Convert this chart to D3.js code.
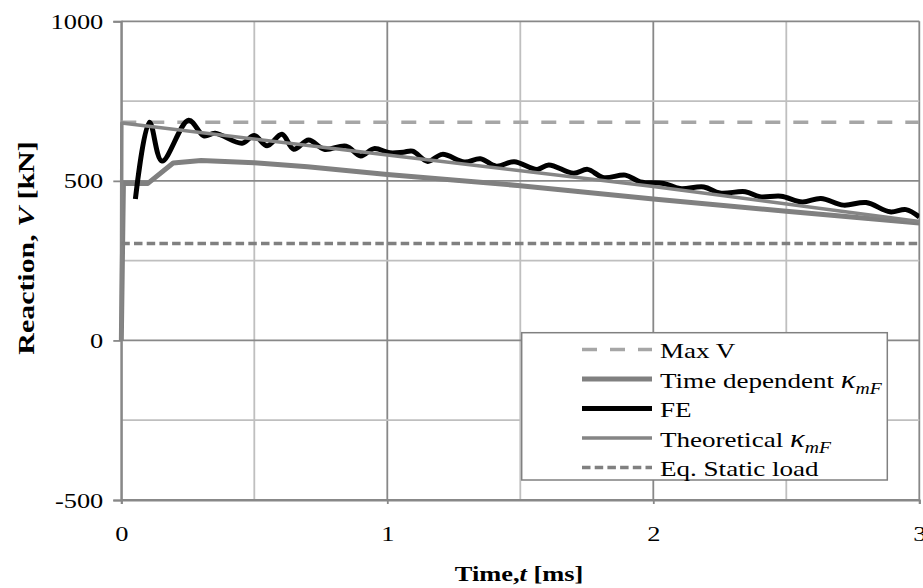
<!DOCTYPE html>
<html><head><meta charset="utf-8">
<script src="https://cdn.jsdelivr.net/npm/d3@7/dist/d3.min.js"></script>
<style>
html,body{margin:0;padding:0;background:#fff;}
svg{display:block;font-family:"Liberation Serif","Times New Roman",Times,serif;}
</style></head>
<body>
<svg id="c" width="923" height="588"></svg>
<script>
// ---------- data ----------
const xTicks = [0, 1, 2, 3];
const yTicks = [-500, 0, 500, 1000];

const maxV = 684;          // Max V
const eqStatic = 304;      // Eq. Static load

const tdT = [0, 0.008, 0.1, 0.195, 0.3, 0.5, 0.7, 1, 1.5, 2, 2.5, 3];
const tdV = [0, 492, 492, 556, 564, 557, 544, 520, 485, 443, 405, 368];

const feT = [0.053, 0.106, 0.153, 0.253, 0.31, 0.353, 0.454, 0.5, 0.548, 0.604, 0.648, 0.704, 0.763, 0.845, 0.9, 0.95, 1.01, 1.06, 1.095, 1.152, 1.207, 1.29, 1.35, 1.41, 1.477, 1.563, 1.607, 1.70, 1.753, 1.813, 1.895, 1.951, 2.039, 2.10, 2.19, 2.25, 2.346, 2.40, 2.48, 2.56, 2.63, 2.715, 2.80, 2.89, 2.95, 3.0];
const feV = [443, 684, 562, 690, 641, 649, 618, 642, 610, 646, 599, 628, 599, 609, 578, 601, 588, 590, 593, 561, 583, 559, 569, 546, 560, 536, 550, 524, 536, 510, 518, 497, 492, 476, 481, 462, 466, 450, 452, 434, 445, 424, 432, 403, 410, 387];

const thT = [0, 0.002, 1, 2, 3];
const thV = [0, 681, 581, 482, 373];

const legendLabels = ["Max V", "Time dependent ", "FE", "Theoretical ", "Eq. Static load"];

// ---------- layout ----------
const FONT = "'Liberation Serif','Times New Roman',Times,serif";
const svg = d3.select("#c");
const L = 121.3, R = 919.3, T = 21.3, B = 500;
const x = d3.scaleLinear().domain([0, 3]).range([L, R]);
const y = d3.scaleLinear().domain([-500, 1000]).range([B, T]);

const minorCol = "#bfbfbf", majorCol = "#888888";

// gridlines
const g = svg.append("g");
d3.range(0, 3.01, 0.5).forEach(v => {
  g.append("line").attr("x1", x(v)).attr("x2", x(v)).attr("y1", T).attr("y2", B)
    .attr("stroke", Number.isInteger(v) ? majorCol : minorCol).attr("stroke-width", 1.8);
});
d3.range(-500, 1001, 250).forEach(v => {
  g.append("line").attr("x1", L).attr("x2", R).attr("y1", y(v)).attr("y2", y(v))
    .attr("stroke", v % 500 === 0 ? majorCol : minorCol).attr("stroke-width", 1.8);
});

// axes
function stretch(sel, sx) {
  sel.each(function () {
    const t = d3.select(this);
    const xx = +t.attr("x") || 0;
    t.attr("transform", `translate(${xx},0) scale(${sx},1) translate(${-xx},0)`);
  });
}
const fmt = d => String(d);
const ya = svg.append("g").attr("transform", `translate(${L},0)`)
  .call(d3.axisLeft(y).tickValues(yTicks).tickSize(8).tickPadding(10).tickFormat(fmt));
ya.attr("font-family", FONT);
ya.select(".domain").attr("stroke", majorCol).attr("stroke-width", 2);
ya.selectAll(".tick line").attr("stroke", majorCol).attr("stroke-width", 1.8);
ya.selectAll("text").attr("font-size", 22).attr("fill", "#000").attr("font-family", FONT);
stretch(ya.selectAll("text"), 1.2);

const xa = svg.append("g").attr("transform", `translate(0,${B})`)
  .call(d3.axisBottom(x).tickValues(xTicks).tickSize(4).tickPadding(21).tickFormat(fmt));
xa.attr("font-family", FONT);
xa.select(".domain").attr("stroke", majorCol).attr("stroke-width", 2);
xa.selectAll(".tick line").attr("stroke", majorCol).attr("stroke-width", 1.8);
xa.selectAll("text").attr("font-size", 22).attr("fill", "#000").attr("font-family", FONT);
stretch(xa.selectAll("text"), 1.2);

// clip
svg.append("clipPath").attr("id", "clip").append("rect")
  .attr("x", L - 3).attr("y", T - 3).attr("width", R - L + 3).attr("height", B - T + 3);
const plot = svg.append("g").attr("clip-path", "url(#clip)");

const line = d3.line().x(d => x(d[0])).y(d => y(d[1]));
const smooth = d3.line().x(d => x(d[0])).y(d => y(d[1])).curve(d3.curveCatmullRom.alpha(0.5));

const styles = {
  maxV: {stroke: "#a6a6a6", width: 3.5, dash: "15,13"},
  td:   {stroke: "#808080", width: 5, dash: null},
  fe:   {stroke: "#000000", width: 5, dash: null},
  th:   {stroke: "#858585", width: 3.5, dash: null},
  eq:   {stroke: "#808080", width: 3.5, dash: "8.5,4.2"}
};

plot.append("path").datum([[0, maxV], [3, maxV]]).attr("d", line)
  .attr("fill", "none").attr("stroke", styles.maxV.stroke).attr("stroke-width", styles.maxV.width)
  .attr("stroke-dasharray", styles.maxV.dash);
plot.append("path").datum(tdT.map((t, i) => [t, tdV[i]])).attr("d", line)
  .attr("fill", "none").attr("stroke", styles.td.stroke).attr("stroke-width", styles.td.width)
  .attr("stroke-linejoin", "round");
plot.append("path").datum(feT.map((t, i) => [t, feV[i]])).attr("d", smooth)
  .attr("fill", "none").attr("stroke", styles.fe.stroke).attr("stroke-width", styles.fe.width)
  .attr("stroke-linejoin", "round");
plot.append("path").datum(thT.map((t, i) => [t, thV[i]])).attr("d", line)
  .attr("fill", "none").attr("stroke", styles.th.stroke).attr("stroke-width", styles.th.width)
  .attr("stroke-linejoin", "round");
plot.append("path").datum([[0, eqStatic], [3, eqStatic]]).attr("d", line)
  .attr("fill", "none").attr("stroke", styles.eq.stroke).attr("stroke-width", styles.eq.width)
  .attr("stroke-dasharray", styles.eq.dash);

// legend
const lg = svg.append("g").attr("font-family", FONT);
lg.append("rect").attr("x", 521.7).attr("y", 332.7).attr("width", 365.6).attr("height", 147.3)
  .attr("fill", "#fff").attr("stroke", "#808080").attr("stroke-width", 1.5);
const keys = ["maxV", "td", "fe", "th", "eq"];
keys.forEach((k, i) => {
  const yy = 349.5 + i * 29.5;
  const s = styles[k];
  lg.append("line").attr("x1", 582).attr("x2", 652).attr("y1", yy).attr("y2", yy)
    .attr("stroke", s.stroke).attr("stroke-width", s.width)
    .attr("stroke-dasharray", s.dash);
  const tx = lg.append("text").attr("x", 660).attr("y", yy + 9).attr("font-size", 22)
    .attr("transform", `translate(660,0) scale(1.23,1) translate(-660,0)`);
  tx.append("tspan").text(legendLabels[i]);
  if (k === "td" || k === "th") {
    tx.append("tspan").attr("font-style", "italic").attr("font-size", 25).text("κ");
    tx.append("tspan").attr("font-style", "italic").attr("font-size", 16).attr("dy", 6).text("mF");
  }
});

// axis titles
const xt = svg.append("text").attr("x", 519).attr("y", 581).attr("font-size", 22)
  .attr("font-family", FONT)
  .attr("font-weight", "bold").attr("text-anchor", "middle")
  .attr("transform", "translate(519,0) scale(1.2,1) translate(-519,0)");
xt.append("tspan").text("Time,");
xt.append("tspan").attr("font-style", "italic").text("t");
xt.append("tspan").text(" [ms]");

const yt = svg.append("text").attr("font-size", 23).attr("font-weight", "bold")
  .attr("font-family", FONT)
  .attr("text-anchor", "middle")
  .attr("transform", "translate(34,248) rotate(-90) scale(1.3,1)");
yt.append("tspan").text("Reaction, ");
yt.append("tspan").attr("font-style", "italic").text("V");
yt.append("tspan").text(" [kN]");
</script>
</body></html>
